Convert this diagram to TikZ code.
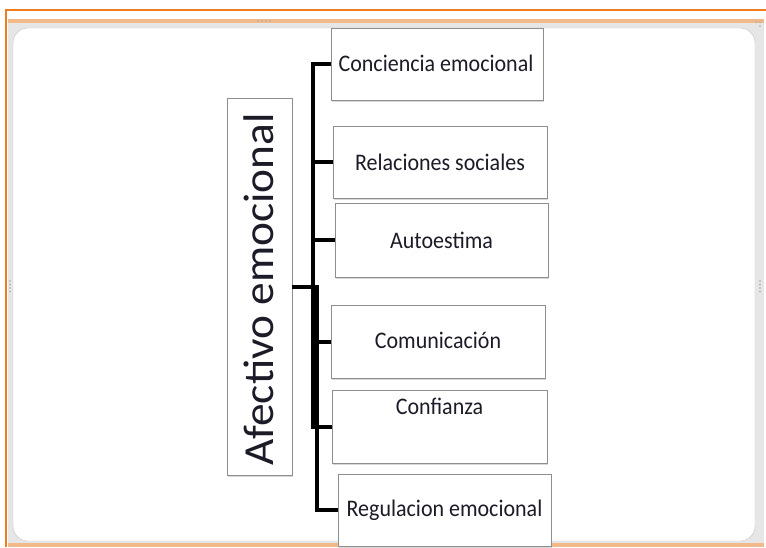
\documentclass[tikz,border=0pt]{standalone}
\usepackage{fontspec}
\setmainfont{Carlito}
\usetikzlibrary{shadows,calc}
\definecolor{frameorange}{HTML}{F07D1E}
\definecolor{framepeach}{HTML}{F2B98A}
\definecolor{framegrey}{HTML}{E6E6E6}
\definecolor{edgegrey}{HTML}{C4C4C4}
\definecolor{boxgrey}{HTML}{8E8E8E}
\definecolor{txt}{HTML}{1C1C28}
\definecolor{dotgrey}{HTML}{A8A8A8}
\newcommand{\tallt}[1]{\scalebox{1}[1.08]{#1}}
\begin{document}
\begin{tikzpicture}[x=1pt,y=1pt,
  box/.style={draw=boxgrey, line width=0.8pt, fill=white, inner sep=0pt,
    drop shadow={shadow xshift=1.2pt,shadow yshift=-1.5pt,opacity=0.3}},
  conn/.style={line width=4pt, black, line join=miter},
  lbl/.style={font=\fontsize{22}{24}\selectfont, text=txt},
  grip/.style={fill=dotgrey}]
\useasboundingbox (0,0) rectangle (766,-547);
\fill[white] (0,0) rectangle (766,-547);
% window frame
\fill[framegrey] (8,-19) rectangle (764,-547);
\fill[framepeach] (8,-19) rectangle (764,-23);
\fill[framepeach] (8,-543) rectangle (764,-547);
\draw[frameorange,line width=1.6pt] (6,-547) -- (6,-10) -- (770,-10);
\draw[edgegrey, fill=white, rounded corners=15pt] (13,-28) rectangle (755,-541);
% grips
\foreach \i in {0,1,2,3} {
  \fill[grip] (258+4*\i,-21) circle (0.8);
  \fill[grip] (760,-281-3.5*\i) circle (0.8);
  \fill[grip] (10,-281-3.5*\i) circle (0.8);
}
\fill[grip] (756,-22) circle (0.8);
\fill[grip] (760,-22) circle (0.8);
\fill[grip] (760,-26) circle (0.8);

% boxes
\node[box, minimum width=65pt, minimum height=377pt] (af) at (259.5,-286.5) {};
\node[rotate=90, text=txt, inner sep=0pt] (aft) at ($(af.center)+(-1,-3)$)
  {\scalebox{1.08}[1.02]{\fontsize{42}{42}\selectfont Afectivo emocional}};
\node[box, minimum width=212pt, minimum height=72pt] (b1) at (437,-64) {};
\node[lbl] (t1) at ($(b1.center)+(-1,1)$) {\tallt{Conciencia emocional}};
\node[box, minimum width=214pt, minimum height=72pt] (b2) at (440,-162) {};
\node[lbl] (t2) at (b2.center) {\tallt{Relaciones sociales}};
\node[box, minimum width=213pt, minimum height=74pt] (b3) at (441.5,-240) {};
\node[lbl] (t3) at (b3.center) {\tallt{Autoestima}};
\node[box, minimum width=214pt, minimum height=73pt] (b4) at (438,-341.5) {};
\node[lbl] (t4) at ($(b4.center)+(0,1)$) {\tallt{Comunicación}};
\node[box, minimum width=215pt, minimum height=73pt] (b5) at (439.5,-426.5) {};
\node[lbl] (t5) at ($(b5.north)+(0,-17)$) {\tallt{Confianza}};
\node[box, minimum width=213pt, minimum height=72pt] (b6) at (444.5,-510) {};
\node[lbl] (t6) at (b6.center) {\tallt{Regulacion emocional}};

% connectors
\coordinate (sp) at (313,0);
\coordinate (sq) at (317,0);
\draw[conn] (b1.west) -- (b1.west -| sp) -- (b5.west -| sp) -- (b5.west);
\draw[conn] (b2.west -| sp) -- (b2.west);
\draw[conn] (b3.west -| sp) -- (b3.west);
\draw[conn] (b4.west -| sp) -- (b4.west);
\draw[conn] (af.east) -- (af.east -| sq) -- (b6.west -| sq) -- (b6.west);
\end{tikzpicture}
\end{document}
